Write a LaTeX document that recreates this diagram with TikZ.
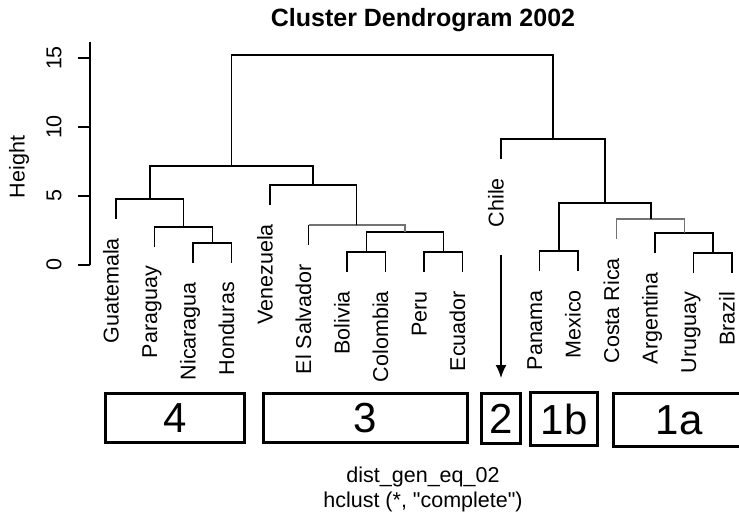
\documentclass[tikz,border=0pt]{standalone}
\usepackage{fontspec}
\setmainfont{Liberation Sans}[Ligatures=TeXOff]
\usepackage{tikz}
\usetikzlibrary{arrows.meta, positioning}

\begin{document}
\begin{tikzpicture}[x=1pt, y=-1pt,
    branch/.style={line width=1.6pt},
    faint/.style={line width=1.2pt, black!55},
    leaflbl/.style={rotate=90, anchor=mid east, inner sep=0pt, font=\fontsize{21.5}{25}\selectfont},
    grpbox/.style={draw, line width=3pt, inner sep=0pt, font=\fontsize{42}{46}\selectfont}]

    \useasboundingbox (0,0) rectangle (739,517);
    \clip (0,0) rectangle (739,517);

    \node[font=\bfseries\fontsize{25}{30}\selectfont] (title) at (423,20) {Cluster Dendrogram 2002};

    % height axis
    \draw[branch] (90,42) -- (90,265);
    \foreach \h in {0,5,10,15}
    {
        \draw[branch] (78,{265-13.8*\h}) -- (90,{265-13.8*\h});
        \node[rotate=90, font=\fontsize{21.5}{25}\selectfont] (tick\h) at (54,{265-13.8*\h}) {\h};
    }
    \node[rotate=90, font=\fontsize{21.5}{25}\selectfont] (ylab) at (19,167) {Height};

    % leaves
    \foreach \i/\nm/\txt/\yb in {0/gua/Guatemala/219, 1/par/Paraguay/247, 2/nic/Nicaragua/263, 3/hon/Honduras/263,
        4/ven/Venezuela/205, 5/els/El Salvador/245, 6/bol/Bolivia/272, 7/col/Colombia/272, 8/per/Peru/272,
        9/ecu/Ecuador/272, 10/chi/Chile/159, 11/pan/Panama/271, 12/mex/Mexico/271, 13/cri/Costa Rica/239,
        14/arg/Argentina/253, 15/uru/Uruguay/273, 16/bra/Brazil/273}
    {
        \coordinate (\nm) at ({116+38.5*\i},\yb);
        \node[leaflbl] (\nm-lbl) at ([yshift=-19pt]\nm) {\txt};
    }

    % merges
    \coordinate (nh) at (212.5,243);
    \coordinate (pnh) at (183.5,227);
    \coordinate (grp4) at (150,199);
    \coordinate (bc) at (366.5,252);
    \coordinate (pe) at (443.5,252);
    \coordinate (andes) at (405,232);
    \coordinate (elsm) at (356.5,225);
    \coordinate (grp3) at (313,185);
    \coordinate (lft) at (231.5,166);
    \coordinate (pm) at (559,251);
    \coordinate (ub) at (713,253);
    \coordinate (aub) at (684.5,233);
    \coordinate (caub) at (651,219);
    \coordinate (grp1) at (605,203);
    \coordinate (rgt) at (553,139);
    \coordinate (root) at (392,55);

    \draw[branch] (nic) |- (nh) -| (hon);
    \draw[branch] (par) |- (pnh) -| (nh);
    \draw[branch] (gua) |- (grp4) -| (pnh);
    \draw[branch] (bol) |- (bc) -| (col);
    \draw[branch] (per) |- (pe) -| (ecu);
    \draw[branch] (bc) |- (andes) -| (pe);
    \draw[branch] (els) -- (els |- elsm);
    \draw[faint] (els |- elsm) -- (elsm) -| (andes);
    \draw[branch] (ven) |- (grp3) -| (elsm);
    \draw[branch] (grp4) |- (lft) -| (grp3);
    \draw[branch] (pan) |- (pm) -| (mex);
    \draw[branch] (uru) |- (ub) -| (bra);
    \draw[branch] (arg) |- (aub) -| (ub);
    \draw[faint] (cri) |- (caub) -| (aub);
    \draw[branch] (pm) |- (grp1) -| (caub);
    \draw[branch] (chi) |- (rgt) -| (grp1);
    \draw[branch] (lft) |- (root) -| (rgt);

    % groups
    \node[grpbox, minimum width=139pt, minimum height=49pt] (box4) at (175,418) {4};
    \node[grpbox, minimum width=204pt, minimum height=49pt] (box3) at (365,418) {3};
    \node[grpbox, minimum width=39pt, minimum height=50pt] (box2) at (501,418.5) {2};
    \node[grpbox, line width=3.5pt, minimum width=67pt, minimum height=53pt] (box1b) at (564,419) {1b};
    \node[grpbox, minimum width=131pt, minimum height=53pt] (box1a) at (679,420) {1a};

    \coordinate (arrtop) at (501,255);
    \draw[line width=1.7pt, -{Latex[length=13pt, width=11pt]}] (arrtop) -- ([yshift=14pt]box2.north);

    \node[align=center, font=\fontsize{21.5}{25}\selectfont] (xlab) at (423,489.5) {dist\_gen\_eq\_02\\hclust (*, "complete")};
\end{tikzpicture}
\end{document}
